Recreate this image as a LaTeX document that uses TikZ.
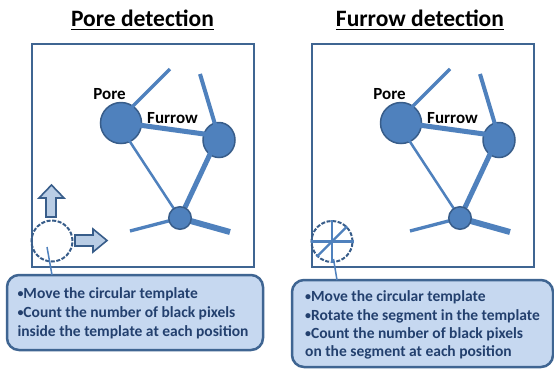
\documentclass[tikz,border=0pt]{standalone}
\usepackage{fontspec}
\setmainfont{Carlito}
\usetikzlibrary{shapes.geometric}
\definecolor{frameblue}{HTML}{3F6592}
\definecolor{shapefill}{HTML}{4F81BD}
\definecolor{shapeline}{HTML}{385D8A}
\definecolor{arrowfill}{HTML}{B9CDE5}
\definecolor{calloutfill}{HTML}{C6D8F0}
\definecolor{txtblue}{HTML}{23406E}
\newcommand{\mybul}{{\fontsize{12}{12}\selectfont\raisebox{0.8pt}{•}}}
\tikzset{
  panelframe/.style={draw=frameblue,line width=2.5pt,minimum width=222pt,minimum height=223pt,inner sep=0pt},
  blob/.style={circle,fill=shapefill,draw=shapeline,line width=1.5pt,inner sep=0pt},
  blobell/.style={ellipse,fill=shapefill,draw=shapeline,line width=1.5pt,inner sep=0pt},
  furrowline/.style={draw=shapefill,line cap=butt},
  lbl/.style={font=\fontsize{17}{20}\selectfont\bfseries,inner sep=0pt,anchor=base},
  ttl/.style={font=\fontsize{23.5}{28}\selectfont\bfseries,inner sep=0pt,anchor=base},
  tmpl/.style={circle,draw=shapeline,line width=2pt,dash pattern=on 4pt off 1.6pt,minimum size=41pt,inner sep=0pt},
  blockarrow/.style={fill=arrowfill,draw=shapeline,line width=1.6pt,line join=miter},
  pointer/.style={draw=shapefill,line width=1.5pt},
  callout/.style={draw=frameblue,fill=calloutfill,line width=2.5pt,rounded corners=12pt,inner sep=0pt},
  ctext/.style={font=\fontsize{15.5}{18.8}\selectfont\bfseries,text=txtblue,inner sep=0pt,anchor=base west},
}
\begin{document}
\begin{tikzpicture}[x=1pt,y=-1pt]
\useasboundingbox (0,0) rectangle (554,368);
\fill[white] (0,0) rectangle (554,368);

\foreach \n/\s in {L/0,R/280}{
\begin{scope}[xshift=\s pt]
  \node[panelframe] (box\n) at (143,155.5) {};
  % blobs (pore and right one under lines)
  \node[blob,minimum size=41pt] (pore\n) at (121,123) {};
  \node[blobell,minimum width=32pt,minimum height=35pt] (rb\n) at (219,140) {};
  \coordinate (pc\n) at (117,122);
  \coordinate (rc\n) at (218.5,136);
  \coordinate (bc\n) at (180,218);
  \coordinate (ea\n) at (170,69);
  \coordinate (eb\n) at (200,74);
  \coordinate (ec\n) at (130,231);
  \coordinate (ed\n) at (230,232);
  \draw[furrowline,line width=3.3pt] (pc\n) -- (ea\n);
  \draw[furrowline,line width=4pt] (eb\n) -- (rc\n);
  \draw[furrowline,line width=5pt] (pc\n) -- (rc\n);
  \draw[furrowline,line width=2.5pt] (pc\n) -- (bc\n);
  \draw[furrowline,line width=5pt] (rc\n) -- (bc\n);
  \draw[furrowline,line width=3.3pt] (bc\n) -- (ec\n);
  \draw[furrowline,line width=6pt] (bc\n) -- (ed\n);
  \node[blob,minimum size=22.5pt] (bb\n) at (bc\n) {};
  \node[lbl] (plbl\n) at (109.5,99) {Pore};
  \node[lbl] (flbl\n) at (172.5,123) {Furrow};
\end{scope}
}

% titles
\node[ttl] (titleL) at (142.5,26) {Pore detection};
\draw[line width=1.6pt] ([yshift=-3.5pt]titleL.base west) -- ([yshift=-3.5pt]titleL.base east);
\node[ttl] (titleR) at (420,26) {Furrow detection};
\draw[line width=1.6pt] ([yshift=-3.5pt]titleR.base west) -- ([yshift=-3.5pt]titleR.base east);

% left: moving template
\draw[blockarrow] (46,217) -- (46,198) -- (39,198) -- (51.5,185) -- (64,198) -- (56,198) -- (56,217) -- cycle;
\draw[blockarrow] (75,235) -- (93,235) -- (93,229) -- (107,240.5) -- (93,252) -- (93,246) -- (75,246) -- cycle;
\node[tmpl] (tmplL) at (52,241) {};
\node[callout,minimum width=256pt,minimum height=75pt] (callL) at (135,312.5) {};
\coordinate (ptL) at (47,247);
\coordinate (qtL) at (52,275);
\draw[pointer] (ptL) -- (qtL);
\node[ctext] (l1) at (17.3,298.5) {\mybul Move the circular template};
\node[ctext] (l2) at (17.3,317.3) {\mybul Count the number of black pixels};
\node[ctext] (l3) at (17.3,336) {inside the template at each position};

% right: rotating segment template
\node[tmpl] (tmplR) at (332,241.5) {};
\draw[pointer,line width=2.2pt] (tmplR.north) -- (tmplR.south);
\draw[pointer,line width=2.2pt] (tmplR.west) -- (tmplR.east);
\draw[pointer,line width=2.2pt] (tmplR.south west) -- (tmplR.north east);
\node[callout,minimum width=261pt,minimum height=87pt] (callR) at (422.5,323.5) {};
\coordinate (ptR) at (333.5,259);
\coordinate (qtR) at (337,280);
\draw[pointer] (ptR) -- (qtR);
\node[ctext] (r1) at (305,301.7) {\mybul Move the circular template};
\node[ctext] (r2) at (305,320) {\mybul Rotate the segment in the template};
\node[ctext] (r3) at (305,338.3) {\mybul Count the number of black pixels};
\node[ctext] (r4) at (305,356.7) {on the segment at each position};
\end{tikzpicture}
\end{document}
